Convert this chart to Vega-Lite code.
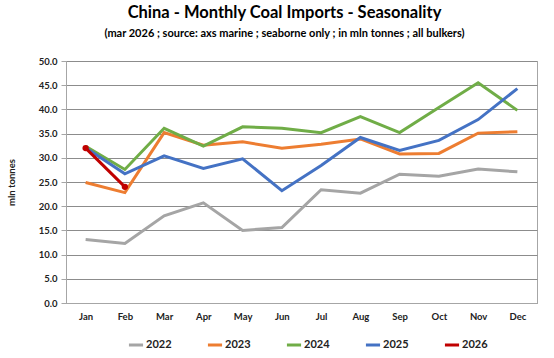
{
  "$schema": "https://vega.github.io/schema/vega-lite/v6.json",
  "width": 471,
  "height": 242,
  "autosize": {"type": "none"},
  "padding": {"left": 66, "top": 61, "right": 17, "bottom": 55},
  "background": "white",
  "title": {
    "text": "China - Monthly Coal Imports - Seasonality",
    "subtitle": "(mar 2026 ; source: axs marine ; seaborne only ; in mln tonnes ; all bulkers)",
    "font": "Lato", "fontSize": 16.5, "fontWeight": "bold", "color": "black",
    "subtitleFont": "Lato", "subtitleFontSize": 11, "subtitleFontWeight": "bold", "subtitleColor": "black",
    "subtitlePadding": 7,
    "anchor": "middle", "dx": -17, "offset": 17
  },
  "config": {
    "view": {"stroke": "#A6A6A6", "strokeWidth": 1},
    "font": "Lato"
  },
  "data": {
    "values": [
      {"month": "Jan", "year": "2022", "value": 13.1},
      {"month": "Feb", "year": "2022", "value": 12.3},
      {"month": "Mar", "year": "2022", "value": 18.0},
      {"month": "Apr", "year": "2022", "value": 20.7},
      {"month": "May", "year": "2022", "value": 15.0},
      {"month": "Jun", "year": "2022", "value": 15.6},
      {"month": "Jul", "year": "2022", "value": 23.4},
      {"month": "Aug", "year": "2022", "value": 22.7},
      {"month": "Sep", "year": "2022", "value": 26.6},
      {"month": "Oct", "year": "2022", "value": 26.2},
      {"month": "Nov", "year": "2022", "value": 27.7},
      {"month": "Dec", "year": "2022", "value": 27.1},
      {"month": "Jan", "year": "2023", "value": 24.9},
      {"month": "Feb", "year": "2023", "value": 22.8},
      {"month": "Mar", "year": "2023", "value": 35.2},
      {"month": "Apr", "year": "2023", "value": 32.6},
      {"month": "May", "year": "2023", "value": 33.3},
      {"month": "Jun", "year": "2023", "value": 32.0},
      {"month": "Jul", "year": "2023", "value": 32.8},
      {"month": "Aug", "year": "2023", "value": 33.9},
      {"month": "Sep", "year": "2023", "value": 30.8},
      {"month": "Oct", "year": "2023", "value": 30.9},
      {"month": "Nov", "year": "2023", "value": 35.1},
      {"month": "Dec", "year": "2023", "value": 35.4},
      {"month": "Jan", "year": "2024", "value": 32.4},
      {"month": "Feb", "year": "2024", "value": 27.6},
      {"month": "Mar", "year": "2024", "value": 36.1},
      {"month": "Apr", "year": "2024", "value": 32.4},
      {"month": "May", "year": "2024", "value": 36.4},
      {"month": "Jun", "year": "2024", "value": 36.1},
      {"month": "Jul", "year": "2024", "value": 35.2},
      {"month": "Aug", "year": "2024", "value": 38.5},
      {"month": "Sep", "year": "2024", "value": 35.2},
      {"month": "Oct", "year": "2024", "value": 40.4},
      {"month": "Nov", "year": "2024", "value": 45.5},
      {"month": "Dec", "year": "2024", "value": 39.8},
      {"month": "Jan", "year": "2025", "value": 32.1},
      {"month": "Feb", "year": "2025", "value": 26.7},
      {"month": "Mar", "year": "2025", "value": 30.4},
      {"month": "Apr", "year": "2025", "value": 27.8},
      {"month": "May", "year": "2025", "value": 29.8},
      {"month": "Jun", "year": "2025", "value": 23.2},
      {"month": "Jul", "year": "2025", "value": 28.4},
      {"month": "Aug", "year": "2025", "value": 34.2},
      {"month": "Sep", "year": "2025", "value": 31.5},
      {"month": "Oct", "year": "2025", "value": 33.6},
      {"month": "Nov", "year": "2025", "value": 37.9},
      {"month": "Dec", "year": "2025", "value": 44.3},
      {"month": "Jan", "year": "2026", "value": 32.0},
      {"month": "Feb", "year": "2026", "value": 24.0}
    ]
  },
  "encoding": {
    "x": {
      "field": "month", "type": "ordinal",
      "sort": ["Jan","Feb","Mar","Apr","May","Jun","Jul","Aug","Sep","Oct","Nov","Dec"],
      "scale": {"padding": 0.5},
      "axis": {
        "title": null, "labelAngle": 0, "ticks": false, "grid": false,
        "domain": true, "domainColor": "#A6A6A6", "domainWidth": 1,
        "labelFont": "Lato", "labelFontSize": 9.5, "labelFontWeight": "bold", "labelColor": "#222222",
        "labelPadding": 8
      }
    },
    "y": {
      "field": "value", "type": "quantitative",
      "scale": {"domain": [0, 50], "nice": false},
      "axis": {
        "title": "mln tonnes", "titleFont": "Lato", "titleFontSize": 9.5, "titleFontWeight": "bold", "titleColor": "#222222",
        "titleX": -50, "titleY": 121,
        "values": [0,5,10,15,20,25,30,35,40,45,50], "format": ".1f",
        "grid": true, "gridColor": "#8C8C8C", "gridWidth": 1,
        "ticks": true, "tickSize": 5, "tickColor": "#A6A6A6",
        "domain": true, "domainColor": "#A6A6A6",
        "labelFont": "Lato", "labelFontSize": 9.5, "labelFontWeight": "bold", "labelColor": "#222222",
        "labelPadding": 4
      }
    },
    "color": {
      "field": "year", "type": "nominal",
      "scale": {"domain": ["2022","2023","2024","2025","2026"], "range": ["#A5A5A5","#ED7D31","#70AD47","#4472C4","#C00000"]},
      "legend": {
        "title": null, "orient": "none", "direction": "horizontal", "columns": 5,
        "legendX": 61, "legendY": 275,
        "symbolType": "stroke", "symbolStrokeWidth": 3, "symbolSize": 200,
        "labelFont": "Lato", "labelFontSize": 11, "labelFontWeight": "bold", "labelColor": "#222222",
        "labelOffset": 1, "columnPadding": 29
      }
    }
  },
  "layer": [
    {"mark": {"type": "line", "strokeWidth": 3}},
    {
      "transform": [{"filter": "datum.year == '2026'"}],
      "mark": {"type": "point", "filled": true, "size": 40, "opacity": 1}
    }
  ]
}
